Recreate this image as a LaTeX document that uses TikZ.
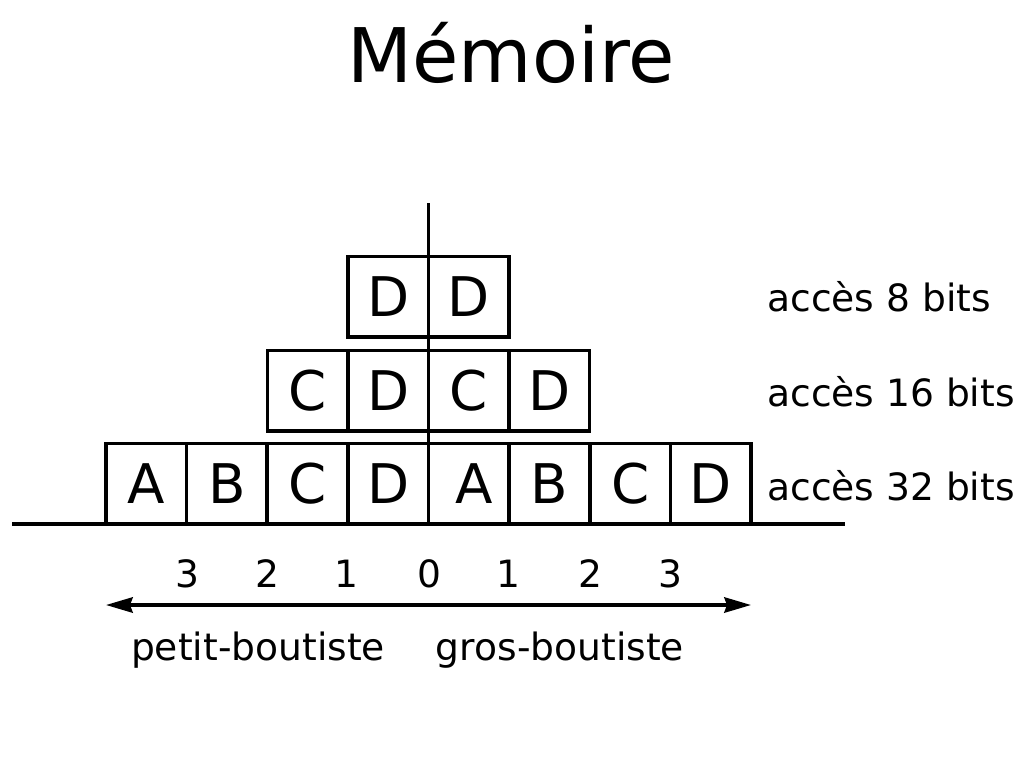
\documentclass[tikz,border=0pt]{standalone}
\usepackage{fontspec}
\setmainfont{DejaVu Sans}
\usetikzlibrary{arrows.meta}
\begin{document}
\begin{tikzpicture}[x=0.75pt,y=-0.75pt,
  cell/.style={draw,line width=2.6pt,minimum width=60.47pt,minimum height=60.4pt,inner sep=0pt,font=\fontsize{41}{41}\selectfont},
  lbl/.style={inner sep=0pt,anchor=base,font=\fontsize{28.2}{28.2}\selectfont},
  rowlbl/.style={inner sep=0pt,anchor=base west,font=\fontsize{28.2}{28.2}\selectfont},
  axis/.style={line width=2.6pt},
  tip/.tip={Stealth[length=20pt,width=11.5pt,inset=2pt]}]
\useasboundingbox (0,0) rectangle (1024,768);
% title
\node[inner sep=0pt,anchor=base,font=\fontsize{56.5}{56.5}\selectfont] (title) at (511,82) {Mémoire};
% bottom row (32 bits)
\node[cell] (b1) at (146.3,484) {A};
\node[cell] (b2) at (226.9,484) {B};
\node[cell] (b3) at (307.6,484) {C};
\node[cell] (b4) at (388.2,484) {D};
\node[cell] (b5) at (468.8,484) {\hspace*{8pt}A};
\node[cell] (b6) at (549.4,484) {B};
\node[cell] (b7) at (630.1,484) {C};
\node[cell] (b8) at (710.7,484) {D};
% middle row (16 bits)
\node[cell] (m1) at (307.6,390.5) {C};
\node[cell] (m2) at (388.2,390.5) {D};
\node[cell] (m3) at (468.8,390.5) {C};
\node[cell] (m4) at (549.4,390.5) {D};
% top row (8 bits)
\node[cell] (t1) at (388.2,296.5) {D};
\node[cell] (t2) at (468.8,296.5) {D};
% axes
\coordinate (vtop) at (428.5,203);
\coordinate (vbot) at (428.5,524);
\draw[axis] (vtop) -- (vbot);
\coordinate (hl) at (12,524);
\coordinate (hr) at (845,524);
\draw[axis] (hl) -- (hr);
% row labels
\node[rowlbl] (l8) at (767,311) {accès 8 bits};
\node[rowlbl] (l16) at (767,406) {accès 16 bits};
\node[rowlbl] (l32) at (767,500) {accès 32 bits};
% byte numbers
\node[lbl] (n1) at (187,587) {3};
\node[lbl] (n2) at (267,587) {2};
\node[lbl] (n3) at (346,587) {1};
\node[lbl] (n4) at (429,587) {0};
\node[lbl] (n5) at (508,587) {1};
\node[lbl] (n6) at (590,587) {2};
\node[lbl] (n7) at (670,587) {3};
% double arrow
\coordinate (al) at (106,605);
\coordinate (ar) at (751,605);
\draw[axis,tip-tip] (al) -- (ar);
\node[lbl] (petit) at (258,660) {petit-boutiste};
\node[lbl] (gros) at (560,660) {gros-boutiste};
\end{tikzpicture}
\end{document}
